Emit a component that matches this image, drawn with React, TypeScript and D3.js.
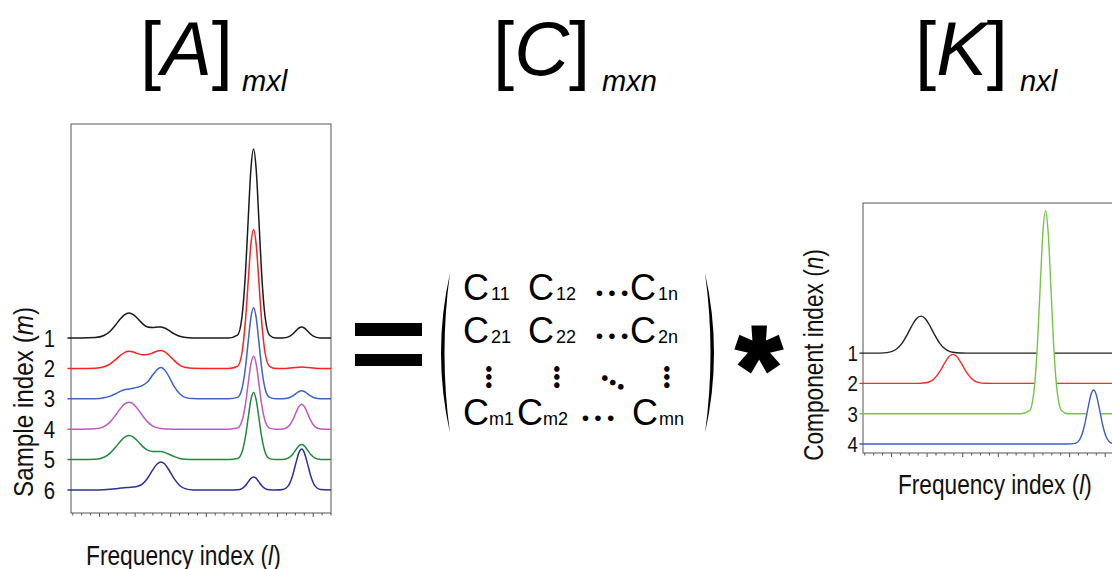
import React from "react";
import * as d3 from "d3";

// ---------- DATA ----------
// frequency index grid (shared by every spectrum)
const freqIndex = [-6, 10, 25, 35, 42, 48, 54, 58, 63, 68, 72, 78, 84, 90, 95, 99, 103, 108, 114, 120, 127, 135, 145, 160, 175, 185, 190, 194, 197, 200, 203, 206, 209, 212, 216, 221, 228, 236, 242, 247, 251, 254, 257, 260, 263, 267, 272, 278, 290];

// [A] measured spectra, samples 1..6 (intensity, a.u.)
const sample1 = [0, 0, 0.4, 2.5, 6.8, 12.9, 19.7, 23.2, 25.1, 23.4, 20.2, 14.6, 10.9, 10.4, 11.0, 11.1, 10.0, 7.6, 4.1, 1.7, 0.4, 0.1, 0, 0, 0, 2.8, 21.0, 66.0, 118.3, 168.2, 189, 168.2, 118.3, 66.0, 21.0, 2.8, 0, 0.1, 1.1, 4.0, 7.6, 10.0, 11, 10.0, 7.6, 4.0, 1.1, 0.1, 0];
const sample2 = [0, 0, 0.2, 1.7, 4.6, 8.7, 13.4, 15.8, 17.1, 16.4, 15.0, 13.7, 13.9, 15.6, 17.4, 18.0, 16.8, 13.2, 7.8, 3.2, 0.8, 0.1, 0, 0, 0, 2.1, 15.4, 48.5, 87.0, 123.7, 139, 123.7, 87.0, 48.5, 15.4, 2.1, 0, 0, 0.2, 0.6, 1.0, 1.2, 1.3, 1.2, 1.0, 0.6, 0.2, 0, 0];
const sample3 = [0, 0, 0.1, 1.0, 2.7, 5.0, 7.7, 9.0, 9.8, 10.6, 11.4, 13.2, 17.0, 24.0, 29.5, 31.2, 29.1, 22.2, 12.2, 5.0, 1.2, 0.2, 0, 0, 0, 1.4, 10.1, 31.8, 57.0, 81.0, 91, 81.0, 57.0, 31.8, 10.1, 1.4, 0, 0.1, 0.8, 2.9, 5.5, 7.3, 8, 7.3, 5.5, 2.9, 0.8, 0.1, 0];
const sample4 = [0, 0, 0.4, 2.6, 7.3, 13.9, 21.2, 25.1, 27, 25.1, 21.2, 13.9, 7.3, 3.1, 1.3, 0.6, 0.2, 0.1, 0, 0, 0, 0, 0, 0, 0, 1.1, 8.1, 25.5, 45.7, 65.0, 73, 65.0, 45.7, 25.5, 8.1, 1.1, 0, 0.3, 2.5, 9.0, 17.3, 22.8, 25, 22.8, 17.3, 9.0, 2.5, 0.3, 0];
const sample5 = [0, 0, 0.3, 2.4, 6.5, 12.3, 18.9, 22.3, 24.0, 22.4, 19.3, 13.5, 9.5, 8.2, 8.2, 8.0, 7.2, 5.4, 3.0, 1.2, 0.3, 0, 0, 0, 0, 1.0, 7.4, 23.4, 41.9, 59.6, 67, 59.6, 41.9, 23.4, 7.4, 1.0, 0, 0.2, 1.5, 5.4, 10.4, 13.7, 15, 13.7, 10.4, 5.4, 1.5, 0.2, 0];
const sample6 = [0, 0, 0, 0.2, 0.7, 1.3, 2.0, 2.3, 2.6, 2.9, 3.4, 5.8, 11.8, 20.3, 26.3, 28.1, 26.2, 20.0, 11.1, 4.5, 1.1, 0.1, 0, 0, 0, 0.2, 1.4, 4.5, 8.1, 11.6, 13, 11.6, 8.1, 4.5, 1.4, 0.2, 0, 0.5, 4.1, 14.8, 28.4, 37.4, 41, 37.4, 28.4, 14.8, 4.1, 0.5, 0];

// [K] pure component spectra 1..4
const component1 = [0, 0, 0.5, 3.6, 10.0, 19.0, 29.1, 34.4, 37, 34.4, 29.1, 19.0, 10.0, 4.3, 1.8, 0.8, 0.3, 0.1, 0, 0, 0, 0, 0, 0, 0, 0, 0, 0, 0, 0, 0, 0, 0, 0, 0, 0, 0, 0, 0, 0, 0, 0, 0, 0, 0, 0, 0, 0, 0];
const component2 = [0, 0, 0, 0, 0, 0, 0, 0, 0.1, 0.6, 1.4, 4.7, 11.5, 20.8, 27.1, 29, 27.1, 20.8, 11.5, 4.7, 1.1, 0.1, 0, 0, 0, 0, 0, 0, 0, 0, 0, 0, 0, 0, 0, 0, 0, 0, 0, 0, 0, 0, 0, 0, 0, 0, 0, 0, 0];
const component3 = [0, 0, 0, 0, 0, 0, 0, 0, 0, 0, 0, 0, 0, 0, 0, 0, 0, 0, 0, 0, 0, 0, 0, 0, 0, 3.0, 22.5, 70.8, 127.1, 180.7, 203, 180.7, 127.1, 70.8, 22.5, 3.0, 0, 0, 0, 0, 0, 0, 0, 0, 0, 0, 0, 0, 0];
const component4 = [0, 0, 0, 0, 0, 0, 0, 0, 0, 0, 0, 0, 0, 0, 0, 0, 0, 0, 0, 0, 0, 0, 0, 0, 0, 0, 0, 0, 0, 0, 0, 0, 0, 0, 0, 0, 0, 0.6, 5.5, 19.5, 37.4, 49.2, 54, 49.2, 37.4, 19.5, 5.5, 0.6, 0];

const sampleLabels = ["1", "2", "3", "4", "5", "6"];
const componentLabels = ["1", "2", "3", "4"];
const matrixRows = [
  ["11", "12", "1n"],
  ["21", "22", "2n"],
  ["m1", "m2", "mn"],
];
const titles = [
  { main: "A", sub: "mxl" },
  { main: "C", sub: "mxn" },
  { main: "K", sub: "nxl" },
];

// ---------- STYLE / LAYOUT ----------
const sampleColors = ["#1a1a1a", "#ff2020", "#3d62c8", "#c457c4", "#1f8a3c", "#2e3190"];
const componentColors = ["#222222", "#ff2a2a", "#72c844", "#3b5fc8"];
const labelFont = "'Liberation Sans', Arial, sans-serif";
const mathFont = "'Liberation Sans', Arial, sans-serif";
const titleFont = "'Liberation Sans', Arial, sans-serif";

const samples = [sample1, sample2, sample3, sample4, sample5, sample6];
const components = [component1, component2, component3, component4];

export default function App() {
  // left panel scales
  const xL = d3.scaleLinear().domain([-2, 290]).range([71, 331]);
  const yL = d3.scaleLinear().domain([0, 389]).range([513, 124]);
  // right panel scales
  const xR = d3.scaleLinear().domain([-2, 290]).range([863, 1123]);
  const yR = d3.scaleLinear().domain([0, 250]).range([453, 203]);

  const minorTicks = d3.range(0, 291, 10);
  const isMajor = (v: number) => (v - 30) % 40 === 0;

  const leftOffset = (i: number) => 23 + (samples.length - 1 - i) * 30.4;
  const rightOffset = (i: number) => 9 + (components.length - 1 - i) * 30.3;

  const lineL = (i: number) =>
    d3
      .line<number>()
      .x((_, j) => xL(freqIndex[j]))
      .y((d) => yL(d + leftOffset(i)))
      .curve(d3.curveMonotoneX);
  const lineR = (i: number) =>
    d3
      .line<number>()
      .x((_, j) => xR(freqIndex[j]))
      .y((d) => yR(d + rightOffset(i)))
      .curve(d3.curveMonotoneX);
  const areaR = (i: number) =>
    d3
      .area<number>()
      .x((_, j) => xR(freqIndex[j]))
      .y0(yR(rightOffset(i)))
      .y1((d) => yR(d + rightOffset(i)))
      .curve(d3.curveMonotoneX);

  const titleX = [140, 493, 915];
  const subX = [242, 602, 1020];

  // matrix layout
  const rowY = [300, 343, 425];
  const colCX = [[463, 528, 630], [463, 528, 630], [463, 517, 632]];
  const colSX = [[491, 556, 658], [491, 556, 658], [489, 543, 659]];
  const hDots = [[612, 292], [612, 335], [598, 417]];
  const vDots = [[489, 377], [557, 377], [667, 377]];

  const dots = (cx: number, cy: number, angle: number, spacing: number, key: string) => (
    <text
      key={key}
      transform={`translate(${cx},${cy}) rotate(${angle})`}
      textAnchor="middle"
      dominantBaseline="central"
      fontFamily={mathFont}
      fontSize={21}
      letterSpacing={spacing}
      dx={spacing / 2}
      fill="#000"
    >
      •••
    </text>
  );

  return (
    <svg
      width={1112}
      height={569}
      style={{ position: "absolute", left: 0, top: 0, display: "block", background: "#fff" }}
    >
      <rect x={0} y={0} width={1112} height={569} fill="#fff" />

      {/* titles */}
      {titles.map((t, i) => (
        <g key={t.main}>
          <text x={titleX[i]} y={75} fontFamily={titleFont} fontSize={76} fill="#000">
            [<tspan fontStyle="italic">{t.main}</tspan>]
          </text>
          <text x={subX[i]} y={91} fontFamily={titleFont} fontSize={29} fontStyle="italic" fill="#000">
            {t.sub}
          </text>
        </g>
      ))}

      {/* ---------- left panel ---------- */}
      <rect x={71} y={124} width={260} height={389} fill="none" stroke="#555" strokeWidth={1} />
      {minorTicks.map((v) => (
        <line key={"tl" + v} x1={xL(v)} x2={xL(v)} y1={513} y2={isMajor(v) ? 517 : 515.5} stroke="#555" strokeWidth={1} />
      ))}
      {samples.map((s, i) => (
        <path key={"s" + i} d={lineL(i)(s) || ""} fill="none" stroke={sampleColors[i]} strokeWidth={1.5} />
      ))}
      {sampleLabels.map((l, i) => (
        <g key={"sl" + i} transform={`translate(55,${yL(leftOffset(i)) + 8.5}) scale(0.85,1)`}>
          <text x={0} y={0} textAnchor="end" fontFamily={labelFont} fontSize={24} fill="#111">
            {l}
          </text>
        </g>
      ))}
      <g transform="translate(33,402) rotate(-90) scale(0.866,1)">
        <text x={0} y={0} textAnchor="middle" fontFamily={labelFont} fontSize={28} fill="#111">
          Sample index (<tspan fontStyle="italic">m</tspan>)
        </text>
      </g>
      <g transform="translate(86,565) scale(0.813,1)">
        <text x={0} y={0} fontFamily={labelFont} fontSize={28} fill="#111">
          Frequency index (<tspan fontStyle="italic">l</tspan>)
        </text>
      </g>

      {/* ---------- equals ---------- */}
      <rect x={355} y={323} width={67} height={13} fill="#000" />
      <rect x={355} y={354} width={67} height={12} fill="#000" />

      {/* ---------- matrix ---------- */}
      <path d="M450,273 Q432,353 450,433 Q439,353 450,273 Z" fill="#000" />
      <path d="M705,273 Q723,353 705,433 Q716,353 705,273 Z" fill="#000" />
      {matrixRows.map((row, r) => (
        <g key={"row" + r}>
          {row.map((sub, c) => (
            <g key={sub}>
              <text x={colCX[r][c]} y={rowY[r]} fontFamily={mathFont} fontSize={36} fill="#000">
                C
              </text>
              <text x={colSX[r][c]} y={rowY[r]} fontFamily={mathFont} fontSize={18} fill="#000">
                {sub}
              </text>
            </g>
          ))}
          {dots(hDots[r][0], hDots[r][1], 0, 5.2, "h" + r)}
        </g>
      ))}
      {vDots.map((p, i) => dots(p[0], p[1], 90, 0.8, "v" + i))}
      {dots(613, 382, 28, 1.8, "diag")}

      {/* ---------- asterisk ---------- */}
      <text x={759} y={409} textAnchor="middle" fontFamily={mathFont} fontWeight="bold" fontSize={118} fill="#000" stroke="#000" strokeWidth={3}>
        *
      </text>

      {/* ---------- right panel ---------- */}
      <rect x={863} y={203} width={260} height={250} fill="none" stroke="#555" strokeWidth={1} />
      {minorTicks.map((v) => (
        <line key={"tr" + v} x1={xR(v)} x2={xR(v)} y1={453} y2={isMajor(v) ? 457 : 455.5} stroke="#555" strokeWidth={1} />
      ))}
      {components.map((c, i) => (
        <g key={"c" + i}>
          <path d={areaR(i)(c) || ""} fill="#fff" stroke="none" />
          <path d={lineR(i)(c) || ""} fill="none" stroke={componentColors[i]} strokeWidth={1.4} />
        </g>
      ))}
      {componentLabels.map((l, i) => (
        <g key={"cl" + i} transform={`translate(858,${yR(rightOffset(i)) + 8}) scale(0.85,1)`}>
          <text x={0} y={0} textAnchor="end" fontFamily={labelFont} fontSize={22} fill="#111">
            {l}
          </text>
        </g>
      ))}
      <g transform="translate(823,355) rotate(-90) scale(0.81,1)">
        <text x={0} y={0} textAnchor="middle" fontFamily={labelFont} fontSize={28} fill="#111">
          Component index (<tspan fontStyle="italic">n</tspan>)
        </text>
      </g>
      <g transform="translate(898,494) scale(0.809,1)">
        <text x={0} y={0} fontFamily={labelFont} fontSize={28} fill="#111">
          Frequency index (<tspan fontStyle="italic">l</tspan>)
        </text>
      </g>
    </svg>
  );
}
